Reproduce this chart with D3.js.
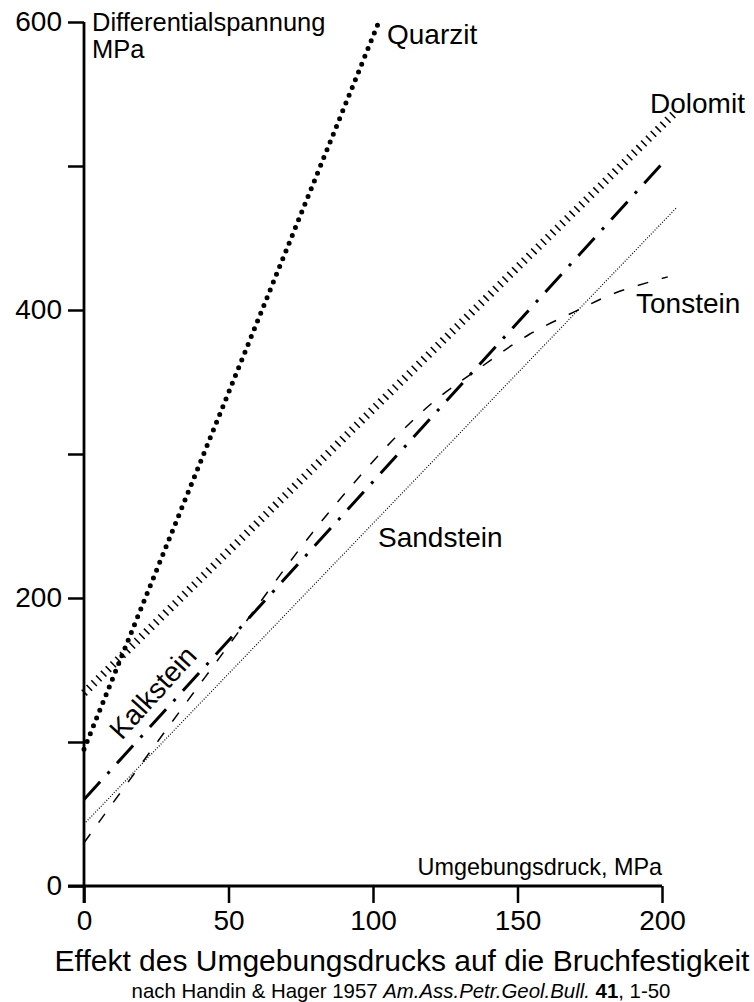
<!DOCTYPE html>
<html>
<head>
<meta charset="utf-8">
<script src="https://cdn.jsdelivr.net/npm/d3@7"></script>
<style>
  html, body { margin: 0; padding: 0; background: #fff; }
  svg { display: block; font-family: "Liberation Sans", Arial, sans-serif; }
</style>
</head>
<body>
<svg id="chart" width="754" height="1002"></svg>
<script>
// Confining pressure (MPa) vs. differential stress at failure (MPa)
const quarzitP = [0, 102];
const quarzitS = [95, 600];
const dolomitP = [0, 204];
const dolomitS = [134, 536];
const kalksteinP = [0, 202];
const kalksteinS = [60, 506];
const sandsteinP = [0, 205];
const sandsteinS = [43, 471];
const tonsteinP = [0, 25, 50, 75, 90, 108, 122, 135, 154, 170, 184, 202];
const tonsteinS = [30, 99, 167, 235, 272, 312, 338, 357, 383, 399, 412, 423];

const xTicks = [0, 50, 100, 150, 200];
const yTicks = [0, 100, 200, 300, 400, 500, 600];
const yLabelled = [0, 200, 400, 600];

const svg = d3.select("#chart");
const font = 28;

const x = d3.scaleLinear().domain([0, 200]).range([84, 662]);
const y = d3.scaleLinear().domain([0, 600]).range([886, 22]);

const zip = (ps, ss) => ps.map((p, i) => [p, ss[i]]);
const line = d3.line().x(d => x(d[0])).y(d => y(d[1]));
const curve = d3.line().x(d => x(d[0])).y(d => y(d[1])).curve(d3.curveCatmullRom.alpha(0.5));

const series = [
  { data: zip(quarzitP, quarzitS), gen: line, width: 5, dash: "0 8.4", cap: "round" },
  { data: zip(dolomitP, dolomitS), gen: line, width: 8, dash: "1.5 5.2", cap: "butt" },
  { data: zip(kalksteinP, kalksteinS), gen: line, width: 3, dash: "24 11 3 11", cap: "butt" },
  { data: zip(sandsteinP, sandsteinS), gen: line, width: 1.2, dash: "1 1.7", cap: "butt" },
  { data: zip(tonsteinP, tonsteinS), gen: curve, width: 1.5, dash: "11 14", cap: "butt" }
];

const plot = svg.append("g");
series.forEach(s => {
  plot.append("path")
    .attr("d", s.gen(s.data))
    .attr("fill", "none")
    .attr("stroke", "#000")
    .attr("stroke-width", s.width)
    .attr("stroke-dasharray", s.dash)
    .attr("stroke-linecap", s.cap);
});

// Axes
const yAxis = d3.axisLeft(y)
  .tickValues(yTicks)
  .tickSize(16)
  .tickPadding(6)
  .tickFormat(d => yLabelled.includes(d) ? d : "");
const gy = svg.append("g").attr("transform", `translate(${x(0)},0)`).call(yAxis);

const xAxis = d3.axisBottom(x)
  .tickValues(xTicks)
  .tickSize(17)
  .tickPadding(7);
const gx = svg.append("g").attr("transform", `translate(0,${y(0)})`).call(xAxis);

[gx, gy].forEach(g => {
  g.select(".domain").remove();
  g.selectAll(".tick line").attr("stroke", "#000").attr("stroke-width", 2.5);
  g.selectAll(".tick text")
    .attr("fill", "#000")
    .style("font-size", font + "px")
    .style("font-family", "\"Liberation Sans\", Arial, sans-serif");
});

// Axis lines, the vertical one running past the origin
svg.append("line")
  .attr("x1", x(0)).attr("x2", x(0))
  .attr("y1", y(600)).attr("y2", y(0) + 17)
  .attr("stroke", "#000").attr("stroke-width", 2.8);
svg.append("line")
  .attr("x1", x(0) - 16).attr("x2", x(200))
  .attr("y1", y(0)).attr("y2", y(0))
  .attr("stroke", "#000").attr("stroke-width", 2.8);

// Axis titles
const yTitle = svg.append("text")
  .attr("x", 92).attr("y", 31)
  .style("font-size", "25.5px");
yTitle.append("tspan").attr("x", 92).text("Differentialspannung");
yTitle.append("tspan").attr("x", 92).attr("dy", 27).text("MPa");

svg.append("text")
  .attr("x", x(200)).attr("y", 875)
  .attr("text-anchor", "end")
  .style("font-size", "23.4px")
  .text("Umgebungsdruck, MPa");

// Rock labels
const labels = [
  { t: "Quarzit", x: 387, y: 44 },
  { t: "Dolomit", x: 650, y: 113 },
  { t: "Tonstein", x: 636, y: 313 },
  { t: "Sandstein", x: 378, y: 547 }
];
labels.forEach(l => {
  svg.append("text").attr("x", l.x).attr("y", l.y)
    .style("font-size", font + "px").text(l.t);
});

// Kalkstein label runs parallel to its line
const kAngle = Math.atan2(y(kalksteinS[1]) - y(kalksteinS[0]), x(kalksteinP[1]) - x(kalksteinP[0])) * 180 / Math.PI;
svg.append("text")
  .attr("transform", `translate(160,699) rotate(${kAngle})`)
  .attr("text-anchor", "middle")
  .style("font-size", font + "px")
  .text("Kalkstein");

// Caption
svg.append("text")
  .attr("x", 402).attr("y", 971)
  .attr("text-anchor", "middle")
  .style("font-size", "30px")
  .text("Effekt des Umgebungsdrucks auf die Bruchfestigkeit");

const cap = svg.append("text")
  .attr("x", 401).attr("y", 998)
  .attr("text-anchor", "middle")
  .style("font-size", "20.4px");
cap.append("tspan").text("nach Handin & Hager 1957 ");
cap.append("tspan").style("font-style", "italic").text("Am.Ass.Petr.Geol.Bull.");
cap.append("tspan").text(" ");
cap.append("tspan").style("font-weight", "bold").text("41");
cap.append("tspan").text(", 1-50");
</script>
</body>
</html>
